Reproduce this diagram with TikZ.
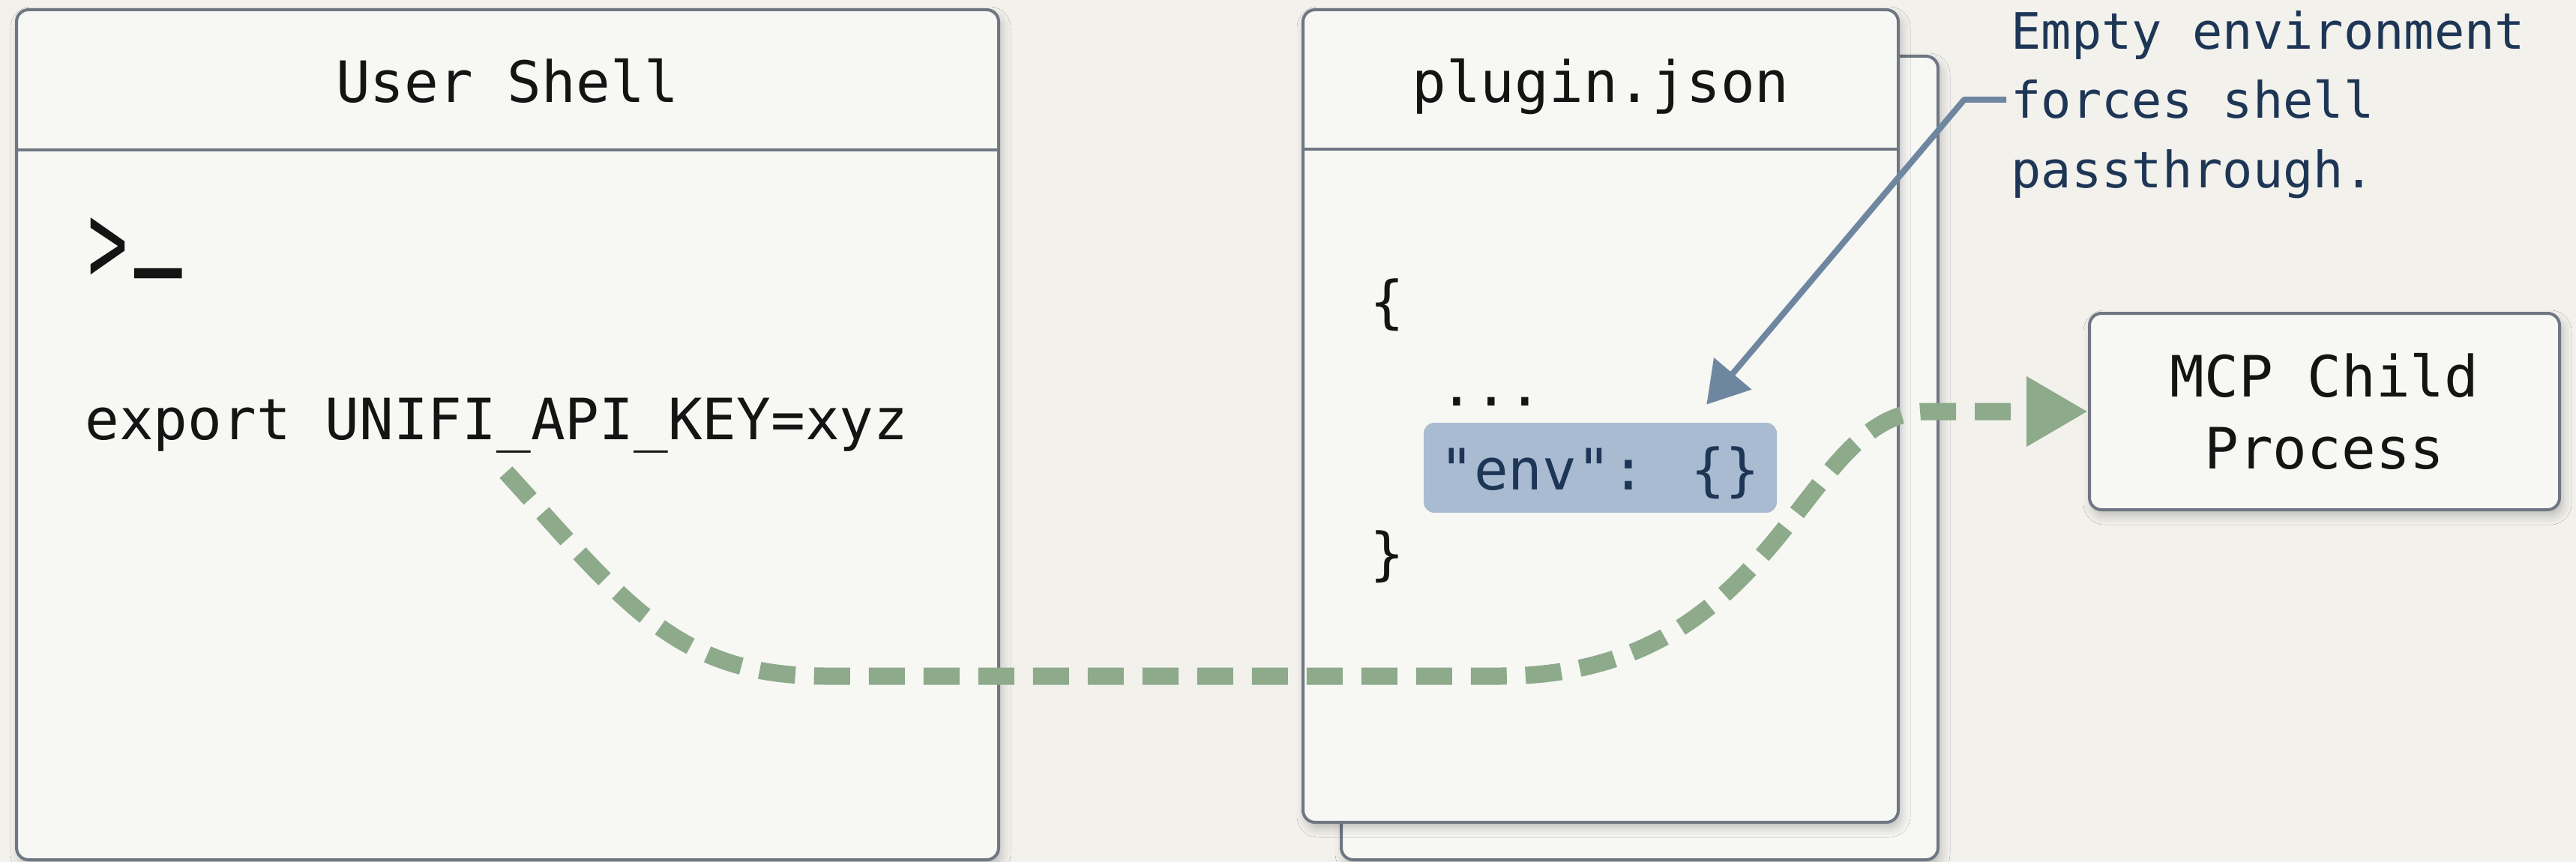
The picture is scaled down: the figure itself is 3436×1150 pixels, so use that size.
\documentclass[tikz,border=0pt]{standalone}
\usepackage{fontspec}
\newfontfamily\codefont{DejaVu Sans Mono}
\usetikzlibrary{arrows.meta,shadows.blur,calc}

\definecolor{paper}{HTML}{F2F1EC}
\definecolor{panelfill}{HTML}{F7F7F4}
\definecolor{panelline}{HTML}{6E7782}
\definecolor{flowgreen}{HTML}{8DAA8A}
\definecolor{noteblue}{HTML}{6F86A0}
\definecolor{envfill}{HTML}{A9BBD1}
\definecolor{navy}{HTML}{1E3656}
\definecolor{ink}{HTML}{141414}

\tikzset{
  panel/.style={draw=panelline, line width=2pt, fill=panelfill,
    rounded corners=8pt, inner sep=0pt,
    blur shadow={shadow xshift=2pt, shadow yshift=-4pt,
      shadow blur radius=6pt, shadow opacity=22}},
  divider/.style={draw=panelline, line width=2pt},
  code/.style={font=\codefont\fontsize{38pt}{48pt}\selectfont, text=ink,
    inner sep=0pt, anchor=base west},
  headtext/.style={code, anchor=base},
  prompttext/.style={font=\codefont\fontsize{44pt}{44pt}\selectfont,
    text=ink, inner sep=0pt, anchor=base west},
  notetext/.style={font=\codefont\fontsize{33.5pt}{46pt}\selectfont,
    text=navy, inner sep=0pt, anchor=base west},
  envbox/.style={fill=envfill, rounded corners=7pt, inner sep=0pt},
  flow/.style={draw=flowgreen, line width=11.5pt,
    dash pattern=on 24pt off 12.5pt,
    -{Triangle[length=41pt,width=44pt]}},
  pointer/.style={draw=noteblue, line width=4pt, line join=round,
    -{Triangle[length=27pt,width=32pt]}},
}

\begin{document}
\begin{tikzpicture}[x=0.5pt,y=-0.5pt]
\useasboundingbox (0,0) rectangle (3436,1150);
\fill[paper] (0,0) rectangle (3436,1150);

% --- user shell panel ---
\node[panel, minimum width=655pt, minimum height=567pt] (shell) at (677,580) {};
\coordinate (shellrule) at (0,200);
\draw[divider] (shell.west |- shellrule) -- (shell.east |- shellrule);
\node[headtext] (shelltitle) at (677,137) {User Shell};
\node[prompttext] (prompt) at (117,377.5)
  {\scalebox{1}[1.77]{>}\hspace{4.5pt}\raisebox{20.25pt}{\bfseries\scalebox{1.2}[1.65]{\_}}};
\node[code] (export) at (113,586) {export UNIFI\_API\_KEY=xyz};

% --- plugin.json panel (stacked sheets) ---
\node[panel, minimum width=398pt, minimum height=536pt] (pluginback) at (2187,611) {};
\node[panel, minimum width=397pt, minimum height=542pt] (plugin) at (2135,555) {};
\coordinate (pluginrule) at (0,199);
\draw[divider] (plugin.west |- pluginrule) -- (plugin.east |- pluginrule);
\node[headtext] (plugintitle) at (2135,137) {plugin.json};

\node[code] (open) at (1827,429) {\{};
\node[code] (dots) at (1920,541) {...};
\node[envbox, minimum width=235.5pt, minimum height=60pt] (envbox) at (2134.5,624) {};
\node[code, text=navy] (envkey) at (1920,653) {"env": \{\}};
\node[code] (close) at (1827,765) {\}};

% --- child process ---
\node[panel, minimum width=313.5pt, minimum height=131pt, align=center,
  font=\codefont\fontsize{38pt}{48pt}\selectfont, text=ink] (mcp)
  at (3100.5,549) {MCP Child\\Process};

% --- annotation ---
\node[notetext] (note1) at (2682,66) {Empty environment};
\node[notetext] (note2) at (2682,158) {forces shell};
\node[notetext] (note3) at (2682,250) {passthrough.};
\draw[pointer] ([xshift=-3pt]note2.west) -- ++(-28pt,0)
  -- ([xshift=-47pt,yshift=12pt]envbox.north east);

% --- variable flow from shell to child process ---
\coordinate (leak) at (675,630);
\draw[flow] (leak) .. controls (830,800) and (900,902) .. (1100,902)
  -- (2000,902) .. controls (2380,902) and (2400,549) .. (2570,549)
  -- (mcp.west);
\end{tikzpicture}
\end{document}
